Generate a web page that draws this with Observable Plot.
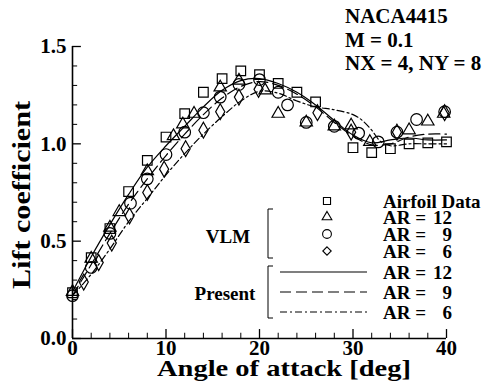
<!DOCTYPE html>
<html><head><meta charset="utf-8">
<script src="https://cdn.jsdelivr.net/npm/d3@7"></script>
<script src="https://cdn.jsdelivr.net/npm/@observablehq/plot@0.6"></script>
<style>
body{margin:0;background:#fff;}
#chart{position:relative;width:487px;height:381px;overflow:hidden;}
svg text{font-family:"Liberation Serif","Times New Roman",serif;font-weight:bold;}
</style></head><body><div id="chart"></div>
<script>
// ---------- data ----------
const titleLines = ["NACA4415", "M = 0.1", "NX = 4, NY = 8"];
const xLabel = "Angle of attack [deg]";
const yLabel = "Lift coefficient";
const xTicks = [0, 10, 20, 30, 40];
const xMinorTicks = [2, 4, 6, 8, 12, 14, 16, 18, 22, 24, 26, 28, 32, 34, 36, 38];
const yTicks = [0, 0.5, 1.0, 1.5];
const yMinorTicks = [0.1, 0.2, 0.3, 0.4, 0.6, 0.7, 0.8, 0.9, 1.1, 1.2, 1.3, 1.4];

// Airfoil data (squares)
const airfoilAlpha = [0, 2, 4, 6, 8, 10, 12, 14, 16, 18, 20, 22, 24, 26, 30, 32, 34, 36, 38, 40];
const airfoilCL    = [0.235, 0.415, 0.565, 0.755, 0.915, 1.035, 1.155, 1.265, 1.335, 1.375, 1.355, 1.31, 1.265, 1.215, 0.98, 0.955, 0.975, 1.0, 1.005, 1.01];

// VLM AR = 12 (triangles)
const vlm12Alpha = [0, 2, 4, 5, 8, 10.8, 11.8, 13, 15.8, 17.8, 20.6, 22, 25, 28, 29.8, 31.8, 36, 38, 39.7];
const vlm12CL    = [0.24, 0.41, 0.57, 0.65, 0.86, 1.04, 1.10, 1.155, 1.29, 1.325, 1.275, 1.155, 1.11, 1.09, 1.095, 1.01, 1.07, 1.115, 1.155];

// VLM AR = 9 (circles)
const vlm9Alpha = [0, 2, 4, 6.2, 8, 10, 12, 14, 15.8, 17.8, 20, 22, 23, 25, 28, 30.6, 32.7, 34.7, 36.8, 39.8];
const vlm9CL    = [0.22, 0.365, 0.54, 0.695, 0.82, 0.945, 1.06, 1.16, 1.24, 1.305, 1.33, 1.265, 1.2, 1.11, 1.09, 1.055, 1.01, 1.06, 1.125, 1.165];

// VLM AR = 6 (diamonds)
const vlm6Alpha = [1.2, 2.8, 4.2, 6.1, 8, 9.8, 12.1, 14, 15.8, 17.8, 19.9, 26.2, 29.8, 34.7, 39.8];
const vlm6CL    = [0.29, 0.39, 0.49, 0.63, 0.75, 0.87, 0.975, 1.07, 1.165, 1.24, 1.28, 1.16, 1.06, 1.06, 1.16];

// Present method (lines)
const presAlpha = [0, 2, 4, 6, 8, 10, 12, 14, 16, 18, 20, 22, 24, 26, 28, 30, 32, 34, 36, 38, 40];
const pres12CL  = [0.24, 0.42, 0.585, 0.74, 0.88, 0.99, 1.09, 1.19, 1.275, 1.325, 1.335, 1.31, 1.265, 1.2, 1.12, 1.045, 1.005, 1.02, 1.03, 1.02, 1.02];
const pres9CL   = [0.22, 0.38, 0.54, 0.69, 0.82, 0.94, 1.05, 1.15, 1.235, 1.295, 1.32, 1.3, 1.255, 1.19, 1.11, 1.04, 0.995, 1.0, 1.035, 1.05, 1.05];
const pres6Alpha = [0, 2, 4, 6, 8, 10, 12, 14, 16, 18, 20, 22, 24, 26, 28, 30, 31, 32, 33, 34, 36, 38, 40];
const pres6CL    = [0.22, 0.33, 0.46, 0.6, 0.72, 0.84, 0.95, 1.05, 1.14, 1.22, 1.27, 1.26, 1.22, 1.19, 1.175, 1.15, 1.12, 1.07, 1.01, 0.99, 1.0, 1.0, 1.0];

const legendLabels = ["Airfoil Data", "AR = 12", "AR = 9", "AR = 6", "AR = 12", "AR = 9", "AR = 6"];
const groupLabels = ["VLM", "Present"];

// ---------- build ----------
const zip = (xs, ys) => xs.map((x, i) => ({x, y: ys[i]}));
const sq = zip(airfoilAlpha, airfoilCL);
const tr = zip(vlm12Alpha, vlm12CL);
const ci = zip(vlm9Alpha, vlm9CL);
const di = zip(vlm6Alpha, vlm6CL);
const l12 = zip(presAlpha, pres12CL);
const l9 = zip(presAlpha, pres9CL);
const l6 = zip(pres6Alpha, pres6CL);

const dash9 = "11,5";
const dash6 = "7,3,2,3";
const sw = 1.2;

const chart = Plot.plot({
  width: 487, height: 381,
  marginLeft: 72, marginRight: 41, marginTop: 46, marginBottom: 43,
  style: {background: "white", overflow: "visible", fontFamily: "Liberation Serif", fontWeight: "bold"},
  x: {domain: [0, 40]},
  y: {domain: [0, 1.5]},
  marks: [
    Plot.line(l12, {x: "x", y: "y", stroke: "black", strokeWidth: sw, curve: "catmull-rom"}),
    Plot.line(l9, {x: "x", y: "y", stroke: "black", strokeWidth: sw, strokeDasharray: dash9, curve: "catmull-rom"}),
    Plot.line(l6, {x: "x", y: "y", stroke: "black", strokeWidth: sw, strokeDasharray: dash6, curve: "catmull-rom"}),
    Plot.dot(sq, {x: "x", y: "y", symbol: "square", r: 5.4, stroke: "black", strokeWidth: sw, fill: "none"}),
    Plot.dot(tr, {x: "x", y: "y", symbol: "triangle", r: 4.6, stroke: "black", strokeWidth: sw, fill: "none"}),
    Plot.dot(ci, {x: "x", y: "y", symbol: "circle", r: 5.8, stroke: "black", strokeWidth: sw, fill: "none"}),
    Plot.dot(di, {x: "x", y: "y", symbol: "diamond", r: 4.8, stroke: "black", strokeWidth: sw, fill: "none"}),
    Plot.ruleX(xMinorTicks, {x: d => d, y1: 0, y2: 0.027, stroke: "black", strokeWidth: 1}),
    Plot.ruleX(xTicks, {x: d => d, y1: 0, y2: 0.046, stroke: "black", strokeWidth: 1.3}),
    Plot.ruleY(yMinorTicks, {y: d => d, x1: 0, x2: 0.55, stroke: "black", strokeWidth: 1}),
    Plot.ruleY(yTicks, {y: d => d, x1: 0, x2: 0.95, stroke: "black", strokeWidth: 1.3}),
    Plot.ruleX([0], {stroke: "black", strokeWidth: 1.6}),
    Plot.ruleY([0], {stroke: "black", strokeWidth: 1.6}),
    Plot.axisX(xTicks, {tickSize: 0, tickPadding: 2, fontSize: 21, fontWeight: "bold", label: null}),
    Plot.axisY(yTicks, {tickSize: 0, tickPadding: 6, fontSize: 21, fontWeight: "bold", label: null, tickFormat: d3.format(".1f")})
  ]
});
document.getElementById("chart").appendChild(chart);

// ---------- annotations (title, axis titles, legend) ----------
const svg = d3.select(chart);
const ann = svg.append("g").attr("fill", "black").attr("font-weight", "bold")
  .attr("text-anchor", "start")
  .attr("font-family", "Liberation Serif, Times New Roman, serif");

const titleY = [16, 40, 63];
titleLines.forEach((t, i) => ann.append("text").attr("x", 345).attr("y", titleY[i])
  .attr("dy", "0.35em").attr("font-size", 21).attr("text-anchor", "start").text(t));

ann.append("text").attr("x", 284).attr("y", 376)
  .attr("text-anchor", "middle").attr("font-size", 23)
  .attr("textLength", 254).attr("lengthAdjust", "spacingAndGlyphs").text(xLabel);
ann.append("text").attr("transform", "translate(21,195) rotate(-90)").attr("dy", "0.35em")
  .attr("text-anchor", "middle").attr("font-size", 26)
  .attr("textLength", 188).attr("lengthAdjust", "spacingAndGlyphs").text(yLabel);

// legend
const lg = ann.append("g").attr("font-size", 19).attr("text-anchor", "start");
const rowY = [201, 217, 234, 251, 272, 292, 312];
const symType = [d3.symbolSquare, d3.symbolTriangle, d3.symbolCircle, d3.symbolDiamond2];
const symR = [4, 3.6, 4.4, 3.8];
for (let i = 0; i < 4; i++) {
  lg.append("path").attr("transform", `translate(327,${rowY[i]})`)
    .attr("d", d3.symbol(symType[i], Math.PI * symR[i] * symR[i])())
    .attr("fill", "none").attr("stroke", "black").attr("stroke-width", 1.1);
}
const dashes = [null, dash9, dash6];
for (let j = 0; j < 3; j++) {
  lg.append("line").attr("x1", 280).attr("x2", 367).attr("y1", rowY[4 + j]).attr("y2", rowY[4 + j])
    .attr("stroke", "black").attr("stroke-width", sw).attr("stroke-dasharray", dashes[j]);
}
legendLabels.forEach((t, i) => {
  const m = t.match(/^(AR =)\s*(\d+)$/);
  if (m) {
    lg.append("text").attr("x", 383).attr("y", rowY[i]).attr("dy", "0.35em").attr("text-anchor", "start").text(m[1]);
    lg.append("text").attr("x", 452).attr("y", rowY[i]).attr("dy", "0.35em").attr("text-anchor", "end").text(m[2]);
  } else {
    lg.append("text").attr("x", 383).attr("y", rowY[i]).attr("dy", "0.35em").attr("text-anchor", "start").text(t);
  }
});
// brackets
lg.append("path").attr("d", "M273,209H268V258H273").attr("fill", "none").attr("stroke", "black").attr("stroke-width", 1);
lg.append("path").attr("d", "M273,266H268V318H273").attr("fill", "none").attr("stroke", "black").attr("stroke-width", 1);
lg.append("text").attr("x", 228).attr("y", 236).attr("dy", "0.35em").attr("text-anchor", "middle").text(groupLabels[0]);
lg.append("text").attr("x", 225).attr("y", 293).attr("dy", "0.35em").attr("text-anchor", "middle").text(groupLabels[1]);
</script></body></html>
